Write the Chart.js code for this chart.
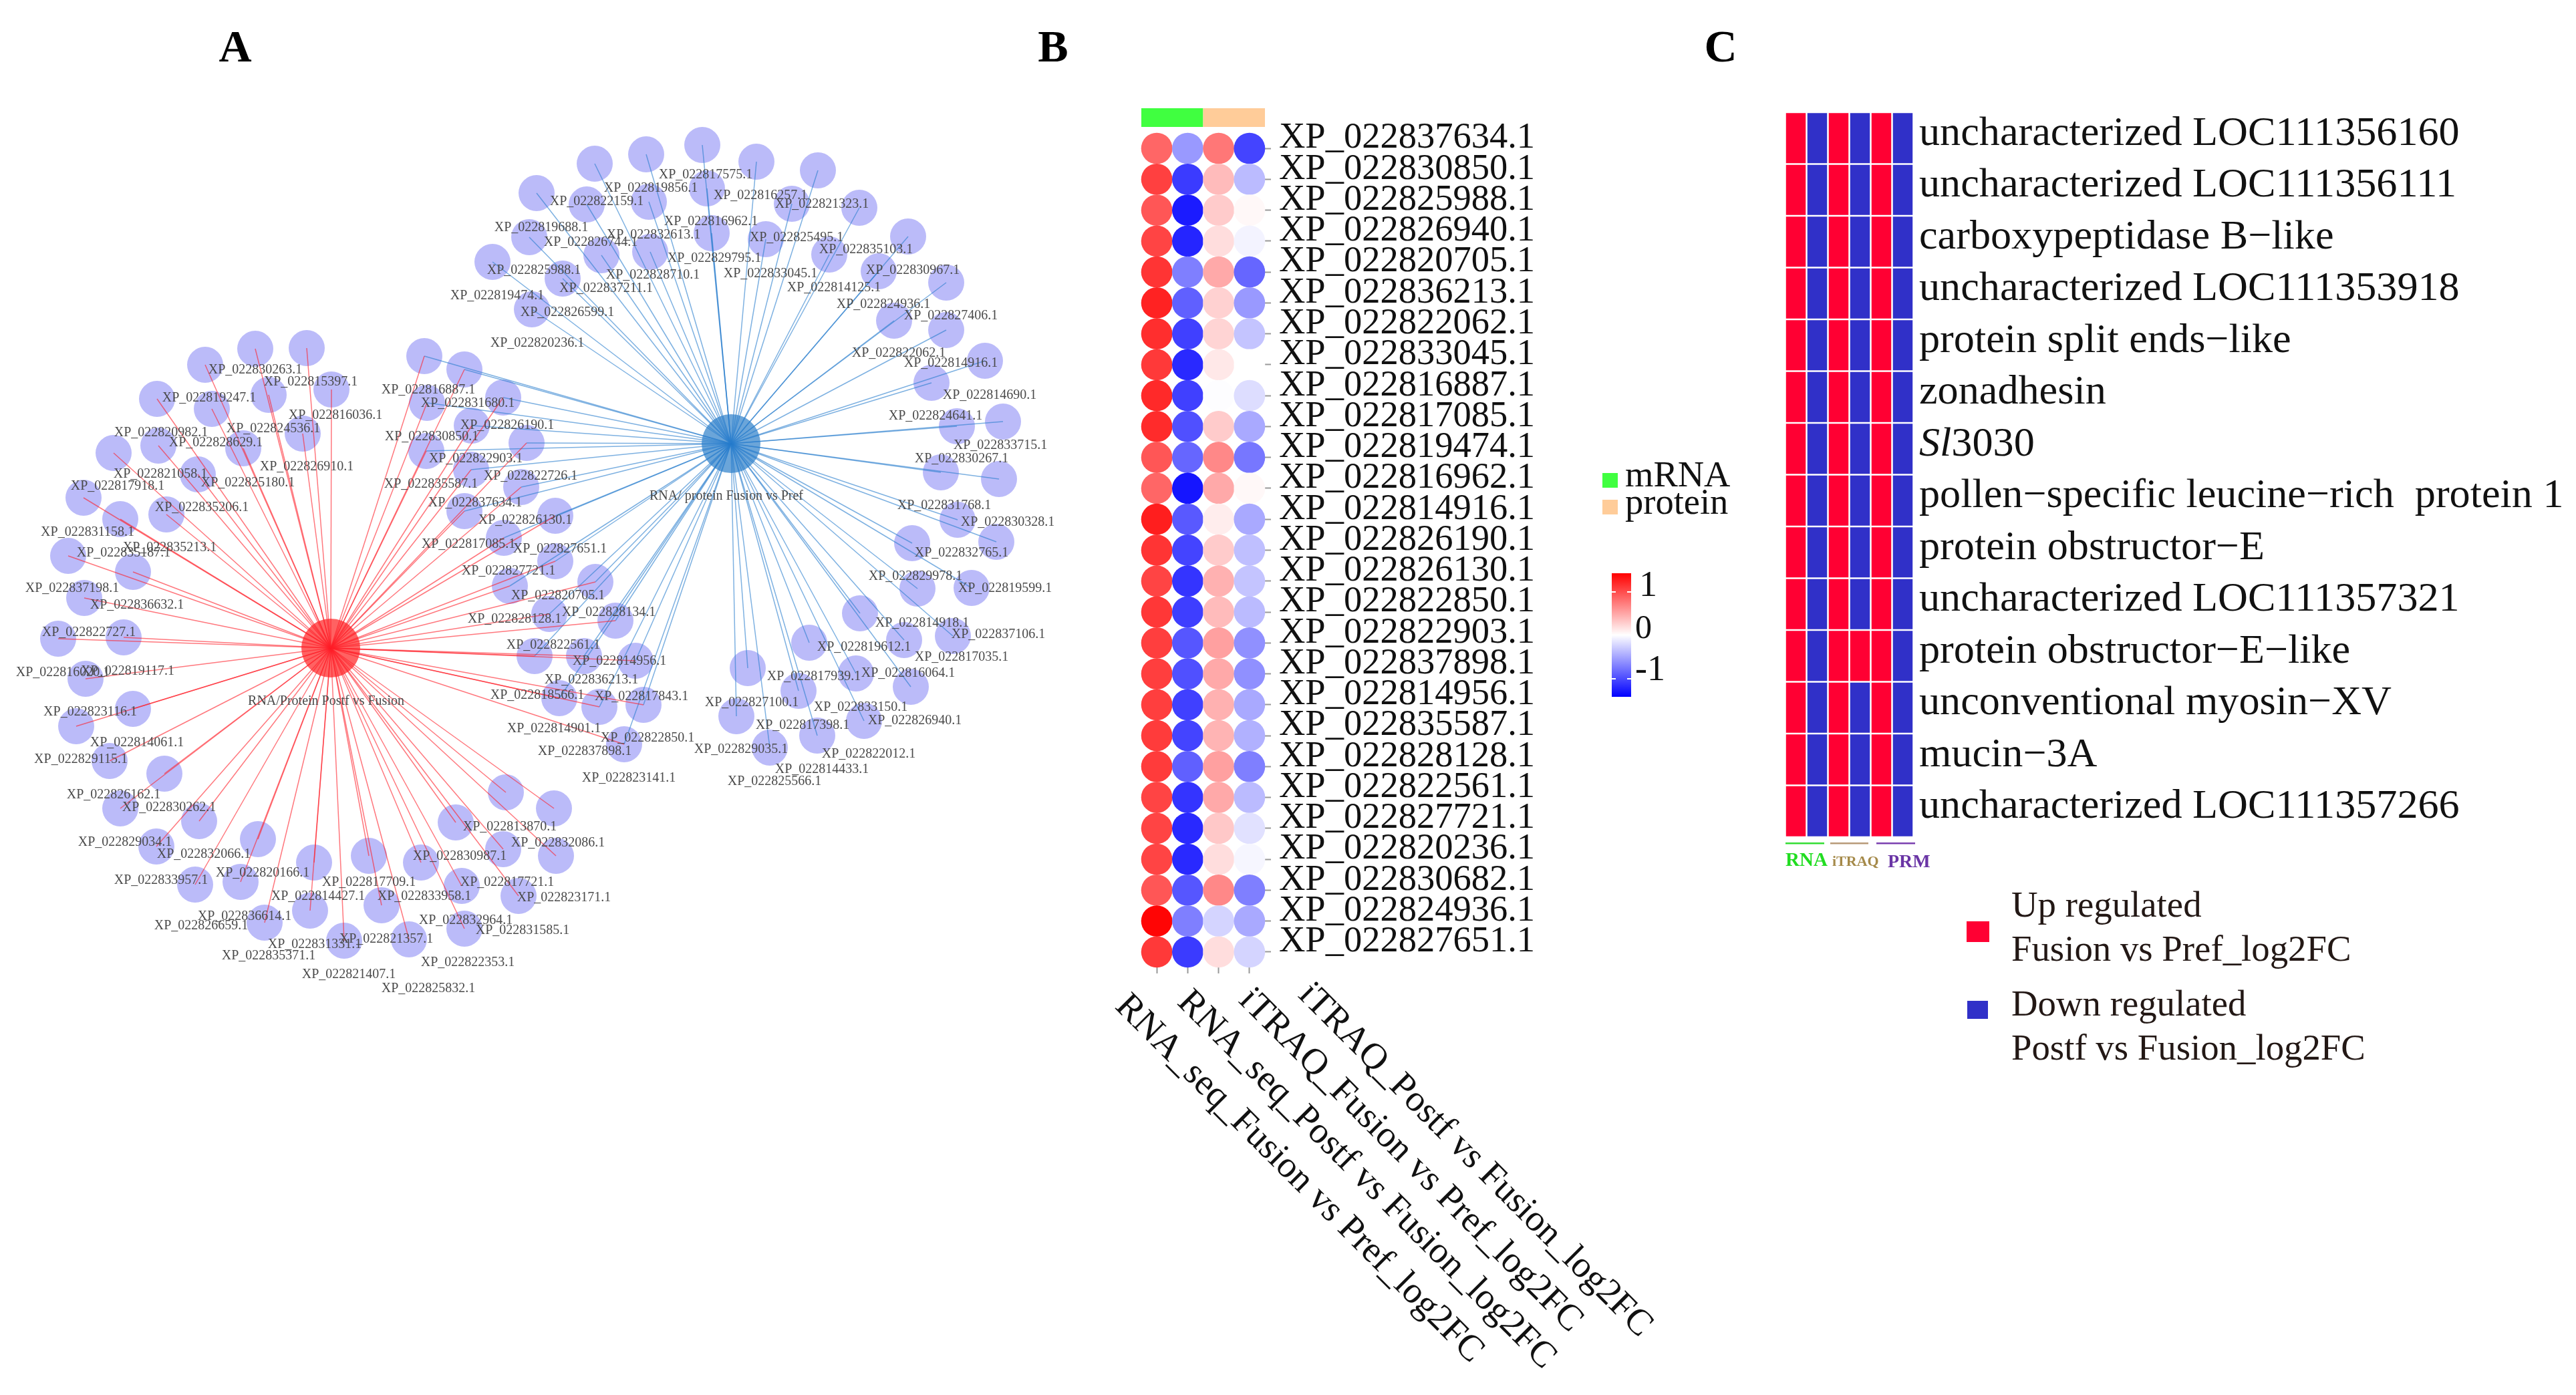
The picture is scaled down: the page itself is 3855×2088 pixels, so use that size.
<!DOCTYPE html>
<html>
<head>
<meta charset="utf-8">
<title>Network and heatmaps</title>
<script src="https://cdn.jsdelivr.net/npm/chart.js@4"></script>
<style>
  html, body { margin: 0; background: #fff; }
  #page { position: relative; width: 3855px; height: 2088px; overflow: hidden; }
  canvas { position: absolute; left: 0; top: 0; }
  #netChart { filter: blur(0.7px); }
  #dotChart, #regChart { filter: blur(0.4px); }
</style>
</head>
<body>
<div id="page">
  <canvas id="netChart" width="3855" height="2088"></canvas>
  <canvas id="dotChart" width="3855" height="2088"></canvas>
  <canvas id="regChart" width="3855" height="2088"></canvas>
</div>
<script>
const serif = "'Liberation Serif'";

// ---- A: network in image pixels
const redHub = [495, 970];
const blueHub = [1094, 664];

const redX = [307,382,459,496,402,317,235,453,364,237,170,296,125,180,249,102,199,126,87,185,128,199,114,164,246,180,298,234,386,470,552,360,292,630,682,757,829,753,832,691,776,571,464,396,515,612,695];
const redY = [546,522,521,583,591,612,597,649,671,667,678,710,745,777,770,832,856,895,956,954,1016,1061,1087,1139,1158,1210,1229,1267,1256,1291,1281,1320,1324,1291,1231,1186,1210,1271,1281,1326,1341,1355,1363,1381,1408,1406,1390];

const sharedX = [635,695,753,639,638,788,706,705,780,695,831,754,831,891,763,822,800,874,837,921,951,963,897,934];
const sharedY = [533,553,595,603,675,663,637,703,729,765,772,805,840,871,877,919,982,982,1045,929,989,1055,1058,1114];

const blueX = [890,967,1051,1132,1224,1286,1185,1058,971,878,803,1065,1146,973,900,792,737,842,796,1241,1359,1315,1416,1338,1416,1474,1394,1501,1432,1408,1495,1433,1491,1365,1454,1373,1287,1211,1353,1426,1119,1281,1195,1363,1102,1293,1223,1152];
const blueY = [245,231,217,242,255,311,305,282,302,306,289,349,358,377,382,355,392,417,463,381,354,406,423,480,494,540,573,631,638,707,717,778,811,813,880,881,918,962,958,952,1000,1008,1034,1028,1072,1079,1101,1119];

const netLabels = ["XP_022830263.1","XP_022815397.1","XP_022819247.1","XP_022816887.1","XP_022831680.1","XP_022816036.1","XP_022824536.1","XP_022820982.1","XP_022828629.1","XP_022826190.1","XP_022830850.1","XP_022826910.1","XP_022822903.1","XP_022822726.1","XP_022821058.1","XP_022825180.1","XP_022835587.1","XP_022817918.1","XP_022835206.1","XP_022837634.1","XP_022826130.1","XP_022831158.1","XP_022835213.1","XP_022835187.1","XP_022817085.1","XP_022827651.1","XP_022827721.1","XP_022837198.1","XP_022820705.1","XP_022836632.1","XP_022828128.1","XP_022828134.1","XP_022822727.1","XP_022822561.1","XP_022816020.1","XP_022819117.1","RNA/Protein Postf vs Fusion","XP_022823116.1","XP_022814061.1","XP_022829115.1","XP_022826162.1","XP_022830262.1","XP_022829034.1","XP_022832066.1","XP_022820166.1","XP_022833957.1","XP_022817709.1","XP_022817721.1","XP_022813870.1","XP_022832086.1","XP_022830987.1","XP_022814427.1","XP_022833958.1","XP_022823171.1","XP_022836614.1","XP_022826659.1","XP_022832964.1","XP_022831585.1","XP_022821357.1","XP_022831331.1","XP_022835371.1","XP_022822353.1","XP_022821407.1","XP_022825832.1","XP_022817575.1","XP_022819856.1","XP_022816257.1","XP_022821323.1","XP_022822159.1","XP_022819688.1","XP_022816962.1","XP_022832613.1","XP_022825495.1","XP_022826744.1","XP_022835103.1","XP_022829795.1","XP_022830967.1","XP_022825988.1","XP_022828710.1","XP_022833045.1","XP_022814125.1","XP_022837211.1","XP_022819474.1","XP_022824936.1","XP_022826599.1","XP_022827406.1","XP_022820236.1","XP_022822062.1","XP_022814916.1","XP_022814690.1","XP_022824641.1","XP_022833715.1","XP_022830267.1","RNA/ protein Fusion vs Pref","XP_022831768.1","XP_022830328.1","XP_022832765.1","XP_022829978.1","XP_022819599.1","XP_022814918.1","XP_022837106.1","XP_022817035.1","XP_022819612.1","XP_022816064.1","XP_022817939.1","XP_022827100.1","XP_022833150.1","XP_022826940.1","XP_022817398.1","XP_022829035.1","XP_022822012.1","XP_022814433.1","XP_022825566.1","XP_022823141.1","XP_022837898.1","XP_022822850.1","XP_022814901.1","XP_022817843.1","XP_022818566.1","XP_022836213.1","XP_022814956.1"];
const netLabelX = [382,465,313,641,700,502,409,241,323,759,646,459,712,794,240,371,645,176,302,711,786,131,254,185,701,838,761,108,835,205,770,911,133,828,94,191,488,135,205,121,170,253,187,305,393,241,552,759,763,835,688,476,635,844,366,301,697,782,578,471,402,700,522,641,1056,974,1138,1230,893,810,1064,978,1192,884,1296,1069,1366,799,977,1153,1248,907,744,1322,849,1423,804,1345,1423,1481,1400,1497,1439,1087,1413,1508,1439,1370,1504,1380,1494,1439,1293,1359,1218,1125,1288,1369,1201,1109,1300,1230,1159,941,875,969,829,960,804,885,927];
const netLabelY = [553,571,595,583,603,621,641,647,662,636,653,698,686,712,709,722,724,727,759,752,778,796,819,827,814,821,854,880,891,905,926,916,946,965,1006,1004,1049,1065,1111,1136,1189,1208,1260,1278,1306,1317,1320,1320,1237,1261,1281,1341,1341,1343,1371,1385,1377,1392,1405,1413,1430,1440,1458,1479,261,281,292,305,301,340,331,351,355,362,373,386,404,404,411,409,430,431,442,455,467,472,513,528,543,591,622,666,686,742,756,781,827,862,880,932,949,983,968,1007,1012,1051,1058,1078,1085,1121,1128,1151,1169,1164,1124,1104,1090,1042,1040,1017,989];

// ---- B: dot heatmap
const geneIds = ["XP_022837634.1","XP_022830850.1","XP_022825988.1","XP_022826940.1","XP_022820705.1","XP_022836213.1","XP_022822062.1","XP_022833045.1","XP_022816887.1","XP_022817085.1","XP_022819474.1","XP_022816962.1","XP_022814916.1","XP_022826190.1","XP_022826130.1","XP_022822850.1","XP_022822903.1","XP_022837898.1","XP_022814956.1","XP_022835587.1","XP_022828128.1","XP_022822561.1","XP_022827721.1","XP_022820236.1","XP_022830682.1","XP_022824936.1","XP_022827651.1"];
const conditions = ["RNA_seq_Fusion vs Pref_log2FC","RNA_seq_Postf vs Fusion_log2FC","iTRAQ_Fusion vs Pref_log2FC","iTRAQ_Postf vs Fusion_log2FC"];
const rnaFusion = [0.86,1.07,0.95,1.05,1.14,1.24,1.17,1.11,1.2,1.19,0.95,0.86,1.26,1.14,1.05,1.12,1.08,1.08,1.08,1.1,1.1,1.05,1.05,1.05,0.95,1.4,1.11];
const rnaPostf = [-0.57,-1.1,-1.28,-1.22,-0.72,-0.89,-1.07,-1.2,-1.07,-0.98,-0.86,-1.31,-0.93,-1.05,-1.14,-1.08,-0.95,-0.98,-1.07,-1.05,-0.89,-1.14,-1.2,-1.2,-0.95,-0.72,-1.1];
const itraqFusion = [0.76,0.38,0.29,0.19,0.48,0.26,0.24,0.13,-0.01,0.29,0.67,0.48,0.1,0.29,0.44,0.38,0.53,0.48,0.44,0.42,0.53,0.48,0.31,0.19,0.67,-0.24,0.19];
const itraqPostf = [-1.05,-0.38,0.04,-0.07,-0.86,-0.57,-0.33,0,-0.19,-0.48,-0.76,0.04,-0.48,-0.36,-0.33,-0.38,-0.62,-0.62,-0.48,-0.44,-0.72,-0.38,-0.17,-0.05,-0.72,-0.48,-0.24];
const scaleTicks = ["1", "0", "-1"];
const scaleMax = 1.43;

// ---- C: up / down table
const proteins = ["uncharacterized LOC111356160","uncharacterized LOC111356111","carboxypeptidase B\u2212like","uncharacterized LOC111353918","protein split ends\u2212like","zonadhesin","Sl3030","pollen\u2212specific leucine\u2212rich  protein 1","protein obstructor\u2212E","uncharacterized LOC111357321","protein obstructor\u2212E\u2212like","unconventional myosin\u2212XV","mucin\u22123A","uncharacterized LOC111357266"];
const methods = ["RNA fusion", "RNA postf", "iTRAQ fusion", "iTRAQ postf", "PRM fusion", "PRM postf"];
const regulation = [
  [1,-1,1,-1,1,-1],[1,-1,1,-1,1,-1],[1,-1,1,-1,1,-1],[1,-1,1,-1,1,-1],[1,-1,1,-1,1,-1],
  [1,-1,1,-1,1,-1],[1,-1,1,-1,1,-1],[1,-1,1,-1,1,-1],[1,-1,1,-1,1,-1],[1,-1,1,-1,1,-1],
  [1,-1,1,1,1,-1],[1,-1,1,-1,1,-1],[1,-1,1,-1,1,-1],[1,-1,1,-1,1,-1]
];

function colorFor(v) {
  const t = Math.min(1, Math.abs(v) / scaleMax);
  const c = Math.round(255 * (1 - t));
  return v >= 0 ? `rgb(255,${c},${c})` : `rgb(${c},${c},255)`;
}

function text(ctx, str, x, y, font, color, align) {
  ctx.font = font;
  ctx.fillStyle = color;
  ctx.textAlign = align || "left";
  ctx.textBaseline = "alphabetic";
  ctx.fillText(str, x, y);
}

const box = { x: { type: "linear", min: 0, max: 3855, display: false }, y: { type: "linear", min: 0, max: 2088, reverse: true, display: false } };

//Network
function edge(hub, x, y, color) {
  return {
    type: "scatter", showLine: true, order: 2, borderColor: color, borderWidth: 1.5,
    pointRadius: 0, data: [{ x: hub[0], y: hub[1] }, { x, y }]
  };
}

const netData = [];
const toPoints = (xs, ys) => xs.map((x, i) => ({ x, y: ys[i] }));
const redEdge = "rgba(255,30,40,0.6)";
const blueEdge = "rgba(40,125,205,0.6)";

netData.push({ type: "scatter", order: 5, data: toPoints(redX.concat(sharedX, blueX), redY.concat(sharedY, blueY)), pointRadius: 27, pointBackgroundColor: "#bbbbf9", pointBorderWidth: 0 });
netData.push({ type: "scatter", order: 4, data: [{ x: redHub[0], y: redHub[1] }], pointRadius: 44, pointBackgroundColor: "#ff6262", pointBorderWidth: 0 });
netData.push({ type: "scatter", order: 4, data: [{ x: blueHub[0], y: blueHub[1] }], pointRadius: 44, pointBackgroundColor: "#6ba5d9", pointBorderWidth: 0 });
redX.concat(sharedX).forEach((x, i) => netData.push(edge(redHub, x, redY.concat(sharedY)[i], redEdge)));
blueX.concat(sharedX).forEach((x, i) => netData.push(edge(blueHub, x, blueY.concat(sharedY)[i], blueEdge)));

new Chart(document.getElementById("netChart"), {
  type: "scatter",
  data: { datasets: netData },
  options: {
    responsive: false, animation: false, events: [],
    layout: { padding: 0, autoPadding: false },
    plugins: { legend: { display: false }, tooltip: { enabled: false } },
    scales: box
  },
  plugins: [{
    id: "netText",
    afterDraw(chart) {
      const ctx = chart.ctx, sx = chart.scales.x, sy = chart.scales.y;
      ctx.save();
      netLabels.forEach((name, i) => {
        text(ctx, name, sx.getPixelForValue(netLabelX[i]), sy.getPixelForValue(netLabelY[i]) + 6, `20px ${serif}`, "#4a4a4a", "center");
      });
      ctx.restore();
    }
  }]
});

//Dot heatmap
const dotColumns = [rnaFusion, rnaPostf, itraqFusion, itraqPostf];
const dotPoints = [];
dotColumns.forEach((col, c) => col.forEach((v, r) => dotPoints.push({ x: conditions[c], y: geneIds[r], v })));

// where each slanted column name starts
const nameStartX = [1667, 1760, 1852, 1941];
const nameStartY = [1508, 1502, 1499, 1491];

new Chart(document.getElementById("dotChart"), {
  type: "scatter",
  data: {
    datasets: [{
      data: dotPoints,
      pointRadius: 23.4,
      pointBorderWidth: 0,
      pointBackgroundColor: (c) => colorFor(c.raw.v)
    }]
  },
  options: {
    responsive: false, animation: false, events: [],
    layout: { autoPadding: false, padding: { left: 1708, right: 3855 - 1893 - 420, top: 199, bottom: 2088 - 1448 - 20 } },
    plugins: { legend: { display: false }, tooltip: { enabled: false } },
    scales: {
      x: {
        type: "category", labels: conditions, offset: true,
        afterFit: (s) => { s.height = 20; },
        border: { display: false },
        grid: { drawOnChartArea: false, tickLength: 9, tickColor: "#999", tickWidth: 2 },
        ticks: { callback: () => "" }
      },
      y: {
        type: "category", labels: geneIds, offset: true, position: "right",
        afterFit: (s) => { s.width = 420; },
        border: { display: false },
        grid: { drawOnChartArea: false, tickLength: 9, tickColor: "#999", tickWidth: 2 },
        ticks: { autoSkip: false, padding: 12, labelOffset: -15, color: "#111", font: { family: "Liberation Serif", size: 54.5 } }
      }
    }
  },
  plugins: [{
    id: "dotText",
    afterDraw(chart) {
      const ctx = chart.ctx;
      ctx.save();
      // top annotation strip
      ctx.fillStyle = "#40ff40";
      ctx.fillRect(1708, 162, 92.5, 28);
      ctx.fillStyle = "#ffcc99";
      ctx.fillRect(1800.5, 162, 92.5, 28);
      // slanted column names, spread wider than the columns
      conditions.forEach((name, i) => {
        ctx.save();
        ctx.translate(nameStartX[i], nameStartY[i]);
        ctx.rotate(Math.PI / 4);
        text(ctx, name, 0, 0, `55px ${serif}`, "#111");
        ctx.restore();
      });
      // mRNA / protein key
      ctx.fillStyle = "#40ff40";
      ctx.fillRect(2398, 708, 23, 22);
      ctx.fillStyle = "#ffcc99";
      ctx.fillRect(2398, 748, 23, 22);
      text(ctx, "mRNA", 2432, 728, `54.5px ${serif}`, "#111");
      text(ctx, "protein", 2432, 769, `54.5px ${serif}`, "#111");
      // colour key
      const g = ctx.createLinearGradient(0, 858, 0, 1043);
      g.addColorStop(0, colorFor(scaleMax));
      g.addColorStop(0.5, "#ffffff");
      g.addColorStop(1, colorFor(-scaleMax));
      ctx.fillStyle = g;
      ctx.fillRect(2412, 858, 29, 185);
      ctx.fillStyle = "#fff";
      [886, 1016].forEach((y) => {
        ctx.fillRect(2412, y - 1, 6, 2);
        ctx.fillRect(2435, y - 1, 6, 2);
      });
      text(ctx, scaleTicks[0], 2453, 892, `54px ${serif}`, "#111");
      text(ctx, scaleTicks[1], 2447, 955, `50px ${serif}`, "#111");
      text(ctx, scaleTicks[2], 2447, 1018, `54px ${serif}`, "#111");
      ctx.restore();
    }
  }]
});

//Up and down table
const UP = "#ff0033";
const DOWN = "#3030c8";
const regSets = regulation.map((row, r) => ({
  data: row.map(() => [r, r + 1]),
  backgroundColor: row.map((v) => (v > 0 ? UP : DOWN)),
  borderColor: "#fff",
  borderWidth: 1.6,
  borderSkipped: false,
  grouped: false,
  barPercentage: 1,
  categoryPercentage: 1
}));

new Chart(document.getElementById("regChart"), {
  type: "bar",
  data: { labels: methods, datasets: regSets },
  options: {
    responsive: false, animation: false, events: [],
    layout: { autoPadding: false, padding: { left: 2671.5, right: 3855 - 2863.5, top: 168, bottom: 2088 - 1253 } },
    plugins: { legend: { display: false }, tooltip: { enabled: false } },
    scales: {
      x: { display: false },
      y: { display: false, min: 0, max: 14, reverse: true }
    }
  },
  plugins: [{
    id: "regText",
    afterDraw(chart) {
      const ctx = chart.ctx, sy = chart.scales.y;
      ctx.save();
      proteins.forEach((name, r) => {
        const y = sy.getPixelForValue(r + 0.5) + 10;
        if (name === "Sl3030") {
          text(ctx, "Sl", 2872, y, `italic 62.2px ${serif}`, "#111");
          const w = ctx.measureText("Sl").width;
          text(ctx, "3030", 2872 + w, y, `62.2px ${serif}`, "#111");
        } else {
          text(ctx, name, 2872, y, `62.2px ${serif}`, "#111");
        }
      });
      // group rules and names under the columns
      [[2672, 2730, "#33dd33"], [2739, 2796, "#b89a78"], [2808, 2866, "#7a40b0"]].forEach(([a, b, c]) => {
        ctx.fillStyle = c;
        ctx.fillRect(a, 1261, b - a, 2.5);
      });
      text(ctx, "RNA", 2672, 1296, `bold 29px ${serif}`, "#22dd22");
      text(ctx, "iTRAQ", 2742, 1296, `bold 22px ${serif}`, "#a58a4a");
      text(ctx, "PRM", 2825, 1298, `bold 28px ${serif}`, "#6a35a5");
      // legend
      ctx.fillStyle = UP;
      ctx.fillRect(2943, 1379, 34, 31);
      ctx.fillStyle = DOWN;
      ctx.fillRect(2944, 1498, 31, 27);
      text(ctx, "Up regulated", 3010, 1372, `54.8px ${serif}`, "#231815");
      text(ctx, "Fusion vs Pref_log2FC", 3010, 1438, `54.8px ${serif}`, "#231815");
      text(ctx, "Down regulated", 3010, 1520, `54.8px ${serif}`, "#231815");
      text(ctx, "Postf vs Fusion_log2FC", 3010, 1586, `54.8px ${serif}`, "#231815");
      // panel letters
      text(ctx, "A", 352, 92, `bold 68px ${serif}`, "#000", "center");
      text(ctx, "B", 1576, 92, `bold 68px ${serif}`, "#000", "center");
      text(ctx, "C", 2575, 92, `bold 68px ${serif}`, "#000", "center");
      ctx.restore();
    }
  }]
});
</script>
</body>
</html>
